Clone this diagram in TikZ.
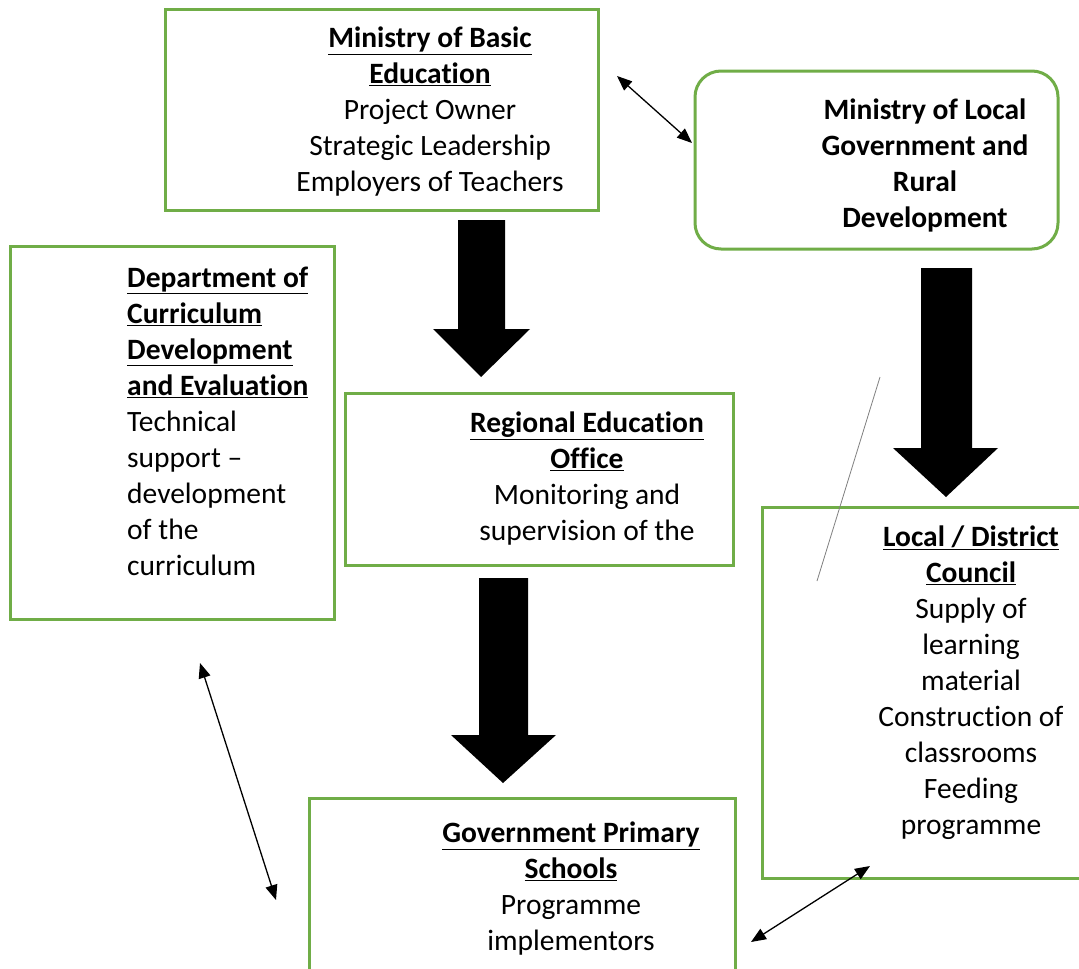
\documentclass[tikz,border=0pt]{standalone}
\usepackage{fontspec}
\setmainfont{Carlito}[Ligatures=NoCommon]
\usetikzlibrary{arrows.meta}
\definecolor{boxgreen}{RGB}{112,173,71}
\tikzset{
  box/.style={draw=boxgreen, line width=3pt, inner sep=0pt, minimum width=#1},
  txt/.style={font=\fontsize{29.5}{36}\selectfont, inner sep=0pt, align=center},
  thin/.style={line width=1.3pt, {Triangle[length=15pt,width=12pt]}-{Triangle[length=15pt,width=12pt]}},
  blockarrow/.style={fill=black, draw=none}
}
\newcommand{\hd}[1]{\underline{\textbf{#1}}}
\begin{document}
\begin{tikzpicture}[x=1pt,y=-1pt]
\clip (0,0) rectangle (1079,969);
\fill[white] (0,0) rectangle (1079,969);
% boxes
\node[box=433pt, minimum height=201pt] (mbe) at (381.5,109.5) {};
\node[box=363pt, minimum height=178pt, rounded corners=26pt] (mlg) at (876.5,160) {};
\node[box=324pt, minimum height=373pt] (dcd) at (172,432.5) {};
\node[box=388pt, minimum height=172pt] (reo) at (539,479) {};
\node[box=330pt, minimum height=371pt] (ldc) at (927,692.5) {};
\node[box=426pt, minimum height=180pt] (gps) at (522,888) {};
% texts
\node[txt] (t1) at (430,112) {\hd{Ministry of Basic}\\\hd{Education}\\Project Owner\\Strategic Leadership\\Employers of Teachers};
\node[txt, font=\fontsize{29.5}{36}\selectfont\bfseries] (t2) at (925,165.5) {Ministry of Local\\Government and\\Rural\\Development};
\node[txt, align=left, anchor=west] (t3) at (127,421) {\hd{Department of}\\\hd{Curriculum}\\\hd{Development}\\\hd{and Evaluation}\\Technical\\support –\\development\\of the\\curriculum};
\node[txt] (t4) at (587,479) {\hd{Regional Education}\\\hd{Office}\\Monitoring and\\supervision of the};
\node[txt] (t5) at (971,683) {\hd{Local / District}\\\hd{Council}\\Supply of\\learning\\material\\Construction of\\classrooms\\Feeding\\programme};
\node[txt] (t6) at (571,889) {\hd{Government Primary}\\\hd{Schools}\\Programme\\implementors};
% block arrows
\fill[blockarrow] (458,220) -- (505,220) -- (505,329) -- (530,329) -- (481,377) -- (433,329) -- (458,329) -- cycle;
\fill[blockarrow] (921,268) -- (972,268) -- (972,448) -- (998,448) -- (946,497) -- (893,448) -- (921,448) -- cycle;
\fill[blockarrow] (479,578) -- (528,578) -- (528,735) -- (556,735) -- (503,783) -- (451,735) -- (479,735) -- cycle;
% thin connectors
\coordinate (a1) at (617,76);
\coordinate (a2) at (692,143);
\coordinate (b1) at (200,663);
\coordinate (b2) at (276,900);
\coordinate (c1) at (751,942);
\coordinate (c2) at (870,866);
\coordinate (d1) at (880,377);
\coordinate (d2) at (817,581);
\draw[thin] (a1) -- (a2);
\draw[thin] (b1) -- (b2);
\draw[thin] (c1) -- (c2);
\draw[line width=0.8pt, gray] (d1) -- (d2);
\end{tikzpicture}
\end{document}
